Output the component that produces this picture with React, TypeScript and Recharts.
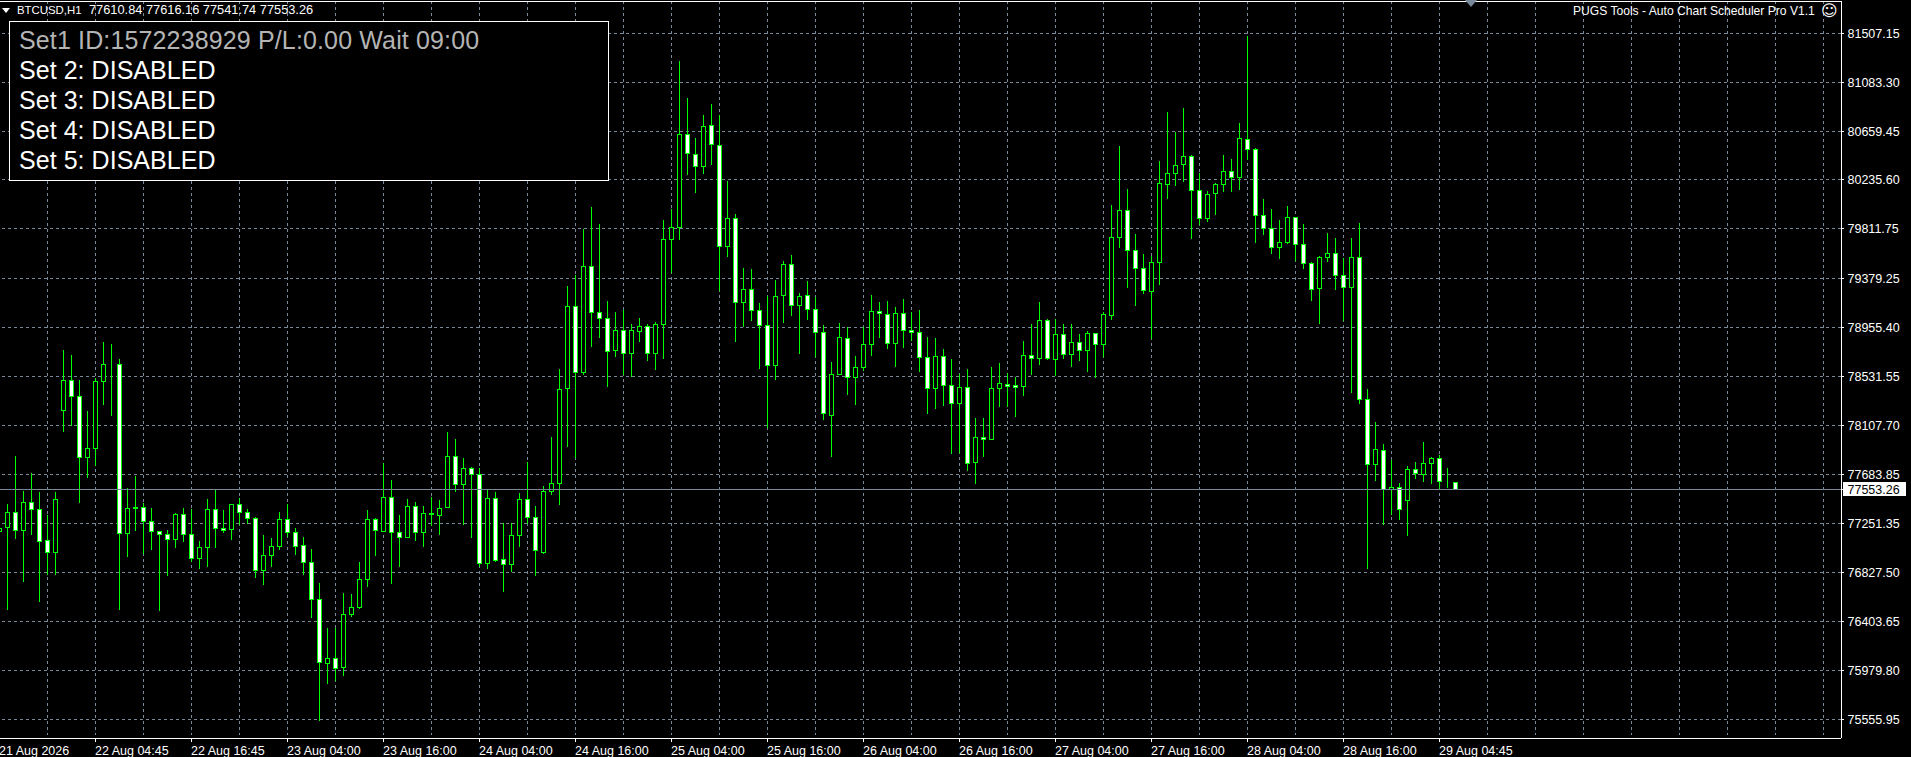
import React from "react";
import { ComposedChart, Bar, XAxis, YAxis, CartesianGrid, ReferenceLine } from "recharts";

const opens = [77183,77218,77352,77192,77439,77378,77105,77001,78237,78497,78358,77825,77903,78485,78636,78636,77166,77395,77395,77274,77187,77161,77118,77334,77161,76949,77048,77378,77207,77204,77421,77352,
77300,76845,76975,77053,77291,77178,77065,76918,76597,76038,76085,76004,76464,76524,76767,77291,77183,77482,77178,77131,77404,77175,77343,77322,77392,77838,77591,77734,77682,76906,77473,
76944,76901,77152,77465,77308,77007,77534,77603,78428,79139,78563,79486,79087,79035,78754,78931,78728,78919,78965,78728,78981,79718,79824,80631,80457,80350,80709,80536,79656,79902,79170,
79286,79104,78971,78627,79231,79503,79148,79234,79113,78913,78193,78546,78861,78523,78610,78806,79096,79070,78814,79078,78931,78913,78696,78424,78705,78454,78294,78436,77782,78002,77982,78428,
78462,78454,78441,78714,78688,79017,78677,78896,78719,78827,78754,78905,78806,79057,79737,79972,79625,79469,79266,79517,80194,80293,80371,80440,80145,79899,80116,80194,80310,80254,80588,
80501,79927,79812,79647,79688,79911,79677,79512,79292,79561,79599,79408,79300,79564,78332,77765,77890,77553,77569,77452,77725,77682,77773,77820,77621,77610.84];

const highs = [77227,77424,77840,77537,77690,77528,77326,77528,78760,78716,78500,78231,78514,78829,78812,78682,77563,77667,77430,77389,77190,77198,77346,77389,77378,77103,77465,77545,77369,77425,77473,77378,
77311,77155,77126,77354,77421,77213,77138,77033,76739,76348,76348,76652,76643,76921,77372,77300,77777,77632,77328,77467,77441,77406,77485,77459,78048,77988,77823,77745,77734,77545,77525,
77256,77256,77522,77786,77406,77580,78008,78595,79312,79410,79807,80000,79853,79185,79089,79107,78985,79035,78985,79003,79888,79980,81267,80946,80596,80796,80894,80796,80226,79937,79471,
79460,79168,79228,79367,79529,79584,79252,79358,79217,78974,78653,78994,78957,78708,78957,79237,79176,79185,79130,79202,79087,79107,78873,78864,78766,78682,78552,78595,78167,78167,78612,78644,
78563,78528,78838,78985,79176,79029,79033,78985,78985,78899,78922,78908,79089,80018,80529,80156,79766,79593,79575,80399,80824,80651,80859,80451,80293,80137,80206,80451,80417,80729,81484,
80510,80067,79983,79888,80009,79916,79853,79521,79575,79775,79731,79558,79731,79862,78419,78135,77944,77806,77603,77753,77788,77962,77829,77846,77734,77616.16];

const lows = [77170,76504,77120,76750,77157,76576,76808,76808,78051,78103,77435,77652,77753,78285,78187,76504,76967,77192,76990,77025,76498,76802,77045,77097,76923,76862,76880,77045,77175,77112,77239,77253,
76782,76721,76877,77025,77140,76981,76808,76435,75544,75862,75888,75932,76444,76513,76704,76973,77180,76730,76877,77128,77103,77051,77236,77155,77390,77528,77242,77129,76877,76860,76921,
76663,76831,77053,77250,76802,76993,77502,77415,77921,77820,78543,78788,78866,78441,78702,78543,78528,78829,78664,78589,78684,79430,79714,80278,80124,80289,80365,79274,79569,78832,78962,
79011,78598,78081,78502,78997,79057,78728,79020,78702,78155,77834,78543,78372,78283,78578,78710,78866,78768,78615,78780,78840,78572,78207,78251,78274,77860,77869,77710,77600,77834,77980,78268,
78268,78181,78363,78543,78630,78673,78534,78684,78615,78664,78572,78517,78702,79020,79645,79298,79141,79246,78858,79324,80070,80182,80217,79723,79844,79870,79931,80130,80130,80148,80408,
79691,79757,79595,79549,79679,79534,79462,79187,78985,79523,79280,79014,78389,78291,76860,77623,77242,77328,77285,77149,77641,77615,77597,77557,77563,77541.74];

const closes = [77213,77352,77192,77439,77374,77097,77001,77465,78497,78355,77825,77907,78488,78636,78632,77170,77387,77383,77270,77187,77161,77118,77334,77161,76949,77048,77378,77209,77198,77421,77352,77296,
76845,76979,77057,77291,77175,77053,76915,76597,76047,76085,75995,76467,76528,76771,77291,77192,77482,77175,77131,77404,77175,77343,77334,77387,77838,77591,77734,77682,76906,77473,76932,
76901,77152,77465,77308,77022,77534,77603,78419,79139,78563,79486,79087,79035,78745,78931,78728,78931,78965,78728,78983,79720,79824,80631,80466,80350,80700,80544,79656,79902,79170,79286,
79104,78971,78627,79226,79503,79148,79226,79113,78913,78211,78549,78870,78520,78610,78809,79096,79075,78818,79078,78931,78910,78696,78428,78705,78454,78294,78436,77777,78002,77982,78428,78471,
78445,78436,78714,78684,79017,78684,78896,78719,78827,78757,78905,78809,79070,79737,79972,79621,79465,79274,79521,80206,80293,80362,80440,80142,79899,80111,80197,80310,80258,80596,80501,
79927,79812,79647,79694,79911,79673,79512,79283,79564,79599,79404,79300,79564,78332,77765,77898,77553,77569,77374,77725,77690,77777,77820,77617,77615,77553.26];

const firstBarIndex = -1;
const gridPrices = [81507.15,81083.3,80659.45,80235.6,79811.75,79379.25,78955.4,78531.55,78107.7,77683.85,77251.35,76827.5,76403.65,75979.8,75555.95];
const currentPrice = 77553.26;
const xTickIndex = [-1,11,23,35,47,59,71,83,95,107,119,131,143,155,167,179];
const xTickLabels = ["21 Aug 2026","22 Aug 04:45","22 Aug 16:45","23 Aug 04:00","23 Aug 16:00","24 Aug 04:00","24 Aug 16:00","25 Aug 04:00","25 Aug 16:00","26 Aug 04:00","26 Aug 16:00","27 Aug 04:00","27 Aug 16:00","28 Aug 04:00","28 Aug 16:00","29 Aug 04:45"];
const xGridIndex = [5,11,17,23,29,35,41,47,53,59,65,71,77,83,89,95,101,107,113,119,125,131,137,143,149,155,161,167,173,179,185,191,197,203,209,215,221,227];
const panelLines = ["Set1 ID:1572238929 P/L:0.00 Wait 09:00","Set 2: DISABLED","Set 3: DISABLED","Set 4: DISABLED","Set 5: DISABLED"];
const symbolText = "BTCUSD,H1";
const quoteText = "77610.84 77616.16 77541.74 77553.26";
const toolText = "PUGS Tools - Auto Chart Scheduler Pro V1.1";

const data = opens.map((o, i) => ({
  idx: firstBarIndex + i,
  open: o,
  high: highs[i],
  low: lows[i],
  close: closes[i],
  range: [lows[i], highs[i]],
}));

const LIME = "#00ff00";
const GRID = "#778899";
const FONT = "'Liberation Sans', Arial, sans-serif";

const snap = (v: number) => Math.round(v - 0.5) + 0.5;

const Candle = (props: any) => {
  const { x, y, width, height, payload } = props;
  const h = Math.abs(height);
  const top = height < 0 ? y + height : y;
  const k = h / (payload.high - payload.low);
  const cx = snap(x + width / 2);
  const bodyTop = snap(top + (payload.high - Math.max(payload.open, payload.close)) * k);
  let bodyBot = snap(top + (payload.high - Math.min(payload.open, payload.close)) * k);
  if (bodyBot < bodyTop) bodyBot = bodyTop;
  const down = payload.close < payload.open;
  return (
    <g shapeRendering="crispEdges">
      <line x1={cx} x2={cx} y1={top} y2={top + h} stroke={LIME} strokeWidth={1} />
      <rect x={cx - 2} y={bodyTop} width={4} height={bodyBot - bodyTop} fill={down ? "#ffffff" : "#000000"} stroke={LIME} strokeWidth={1} />
    </g>
  );
};

const XTick = (props: any) => {
  const { x, y, payload } = props;
  const i = xTickIndex.indexOf(payload.value);
  return (
    <text x={x - 0.5} y={y + 11} fill="#ffffff" fontSize={12.5} fontFamily={FONT} textAnchor="start">
      {xTickLabels[i]}
    </text>
  );
};

const YTick = (props: any) => {
  const { y, payload } = props;
  const isCurrent = payload.value === currentPrice;
  return (
    <g>
      {isCurrent && <rect x={1843} y={Math.round(y) - 7} width={63} height={14} fill="#ffffff" />}
      <text x={1847.5} y={y + 4.5} fill={isCurrent ? "#000000" : "#ffffff"} fontSize={12.5} fontFamily={FONT} textAnchor="start">
        {payload.value.toFixed(2)}
      </text>
    </g>
  );
};

const VLine = (props: any) => (
  <line x1={props.x1} x2={props.x2} y1={props.y1} y2={735} stroke={GRID} strokeDasharray="3 3" shapeRendering="crispEdges" />
);
const HLine = (props: any) => (
  <line x1={2} x2={props.x2} y1={props.y1} y2={props.y2} stroke={GRID} strokeDasharray="3 3" shapeRendering="crispEdges" />
);

export default function App() {
  return (
    <div style={{ position: "absolute", left: 0, top: 0, width: 1911, height: 757, background: "#000", overflow: "hidden" }}>
      <ComposedChart
        width={1911}
        height={757}
        data={data}
        margin={{ top: 1, right: 0, bottom: 0, left: 0 }}
        style={{ background: "#000" }}
      >
        <CartesianGrid
          stroke={GRID}
          horizontalValues={gridPrices}
          verticalValues={xGridIndex}
          vertical={VLine}
          horizontal={HLine}
        />
        <XAxis
          dataKey="idx"
          type="number"
          domain={[-0.9375, 229.1875]}
          allowDataOverflow
          ticks={xTickIndex}
          interval={0}
          height={19}
          stroke="#ffffff"
          tickSize={4}
          tickLine={{ stroke: "#ffffff" }}
          axisLine={{ stroke: "#ffffff" }}
          tick={XTick}
          shapeRendering="crispEdges"
        />
        <YAxis
          orientation="right"
          type="number"
          domain={[75393.85, 81787.325]}
          allowDataOverflow
          ticks={[...gridPrices, currentPrice]}
          interval={0}
          width={70}
          stroke="#ffffff"
          tickSize={3}
          tickLine={{ stroke: "#ffffff" }}
          axisLine={{ stroke: "#ffffff" }}
          tick={YTick}
          shapeRendering="crispEdges"
        />
        <ReferenceLine y={81787.325} stroke="#ffffff" shapeRendering="crispEdges" />
        <ReferenceLine y={currentPrice} stroke={GRID} shapeRendering="crispEdges" />
        <Bar dataKey="range" barSize={5} shape={Candle} isAnimationActive={false} />
      </ComposedChart>

      <div style={{ position: "absolute", left: 2, top: 8, width: 0, height: 0, borderLeft: "4px solid transparent", borderRight: "4px solid transparent", borderTop: "5px solid #fff" }} />
      <div style={{ position: "absolute", left: 17, top: 3, font: `11.4px/14px ${FONT}`, color: "#fff", whiteSpace: "pre" }}>{symbolText}</div>
      <div style={{ position: "absolute", left: 89, top: 3, font: `12.8px/14px ${FONT}`, color: "#fff", whiteSpace: "pre" }}>{quoteText}</div>
      <div style={{ position: "absolute", left: 1465, top: 0, width: 0, height: 0, borderLeft: "6px solid transparent", borderRight: "6px solid transparent", borderTop: "7px solid #778899" }} />
      <div style={{ position: "absolute", left: 1573, top: 4, font: `12.1px/14px ${FONT}`, color: "#fff", whiteSpace: "pre" }}>{toolText}</div>
      <div style={{ position: "absolute", left: 1821, top: 1, font: `16px/20px 'DejaVu Sans', sans-serif`, color: "#fff" }}>☺</div>

      <div style={{ position: "absolute", left: 9, top: 21, width: 598, height: 158, border: "1px solid #fff", background: "#000" }}>
        {panelLines.map((t, i) => (
          <div key={i} style={{ position: "absolute", left: 9, top: 3 + i * 30, font: `25px/30px ${FONT}`, letterSpacing: i === 0 ? 0.14 : 0.04, color: i === 0 ? "#b4b4b4" : "#fff", whiteSpace: "pre" }}>
            {t}
          </div>
        ))}
      </div>
    </div>
  );
}
